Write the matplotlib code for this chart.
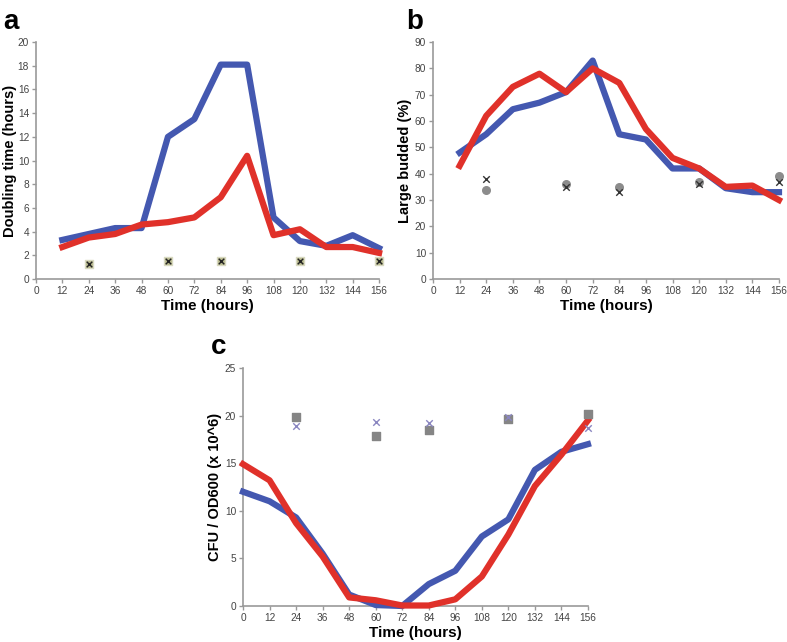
import numpy as np
import matplotlib.pyplot as plt

plt.rcParams['font.family'] = ['Liberation Sans', 'DejaVu Sans']

# Panel a - doubling time
hours_a = [12, 24, 36, 48, 60, 72, 84, 96, 108, 120, 132, 144, 156]
dbl_blue = [3.3, 3.8, 4.3, 4.3, 12.0, 13.5, 18.1, 18.1, 5.2, 3.2, 2.8, 3.7, 2.6]
dbl_red = [2.7, 3.5, 3.8, 4.6, 4.8, 5.2, 6.9, 10.4, 3.7, 4.2, 2.7, 2.7, 2.2]
ctrl_hours = [24, 60, 84, 120, 156]
dbl_ctrl_sq = [1.3, 1.5, 1.5, 1.55, 1.5]
dbl_ctrl_x = [1.3, 1.5, 1.5, 1.55, 1.5]

# Panel b - large budded
bud_blue = [48, 55, 64.5, 67, 71, 83, 55, 53, 42, 42, 34.5, 33, 33]
bud_red = [43, 62, 73, 78, 71, 80, 74.5, 57, 46, 42, 35, 35.5, 30]
bud_ctrl_o = [34, 36, 35, 37, 39]
bud_ctrl_x = [38, 35, 33, 36, 37]

# Panel c - CFU / OD600
hours_c = [0, 12, 24, 36, 48, 60, 72, 84, 96, 108, 120, 132, 144, 156]
cfu_blue = [12.0, 11.0, 9.3, 5.5, 1.2, 0.1, 0.0, 2.3, 3.7, 7.3, 9.1, 14.3, 16.2, 17.0]
cfu_red = [14.9, 13.2, 8.7, 5.2, 0.9, 0.6, 0.05, 0.05, 0.7, 3.1, 7.5, 12.6, 15.9, 19.5]
cfu_ctrl_sq = [19.8, 17.9, 18.5, 19.6, 20.2]
cfu_ctrl_x = [18.9, 19.3, 19.2, 19.9, 18.7]

xticks = list(range(0, 157, 12))
blue = '#4458b0'
red = '#e0312a'

fig = plt.figure(figsize=(7.87, 6.42), dpi=100)


def style(ax, ymax, ystep, ylabel, ylab_x):
    ax.set_xlim(0, 156)
    ax.set_ylim(0, ymax)
    ax.set_xticks(xticks)
    ax.set_yticks(np.arange(0, ymax + 0.1, ystep))
    for s in ['top', 'right']:
        ax.spines[s].set_visible(False)
    for s in ['left', 'bottom']:
        ax.spines[s].set_color('#999999')
        ax.spines[s].set_linewidth(1.2)
    ax.tick_params(labelsize=7.3, colors='#999999', labelcolor='#444444',
                   length=3, width=1, pad=2)
    ax.set_xlabel('Time (hours)', fontsize=11, fontweight='bold', labelpad=2)
    ax.set_ylabel(ylabel, fontsize=10.5, fontweight='bold',
                  va='center', ha='center')
    ax.yaxis.set_label_coords(ylab_x, 0.5)


ax1 = fig.add_axes([0.0457, 0.5654, 0.436, 0.369])
ax1.plot(hours_a, dbl_blue, color=blue, lw=4.5, clip_on=False, zorder=3)
ax1.plot(hours_a, dbl_red, color=red, lw=4.5, clip_on=False, zorder=4)
ax1.scatter(ctrl_hours, dbl_ctrl_sq, marker='s', s=30, color='#b4b68a',
            edgecolors='#d8d9c0', zorder=5, clip_on=False)
ax1.scatter(ctrl_hours, dbl_ctrl_x, marker='x', s=16, color='#222222',
            linewidths=1, zorder=6, clip_on=False)
style(ax1, 20, 2, 'Doubling time (hours)', -0.076)
fig.text(0.004, 0.955, 'a', fontsize=20, fontweight='bold')

ax2 = fig.add_axes([0.5502, 0.5654, 0.4396, 0.369])
ax2.plot(hours_a, bud_blue, color=blue, lw=4.5, clip_on=False, zorder=3)
ax2.plot(hours_a, bud_red, color=red, lw=4.5, clip_on=False, zorder=4)
ax2.scatter(ctrl_hours, bud_ctrl_o, marker='o', s=30, color='#8c8c8c',
            zorder=5, clip_on=False)
ax2.scatter(ctrl_hours, bud_ctrl_x, marker='x', s=22, color='#333333',
            linewidths=1, zorder=6, clip_on=False)
style(ax2, 90, 10, 'Large budded (%)', -0.08)
fig.text(0.516, 0.955, 'b', fontsize=20, fontweight='bold')

ax3 = fig.add_axes([0.3088, 0.0561, 0.4383, 0.3707])
ax3.plot(hours_c, cfu_blue, color=blue, lw=4.5, clip_on=False, zorder=3)
ax3.plot(hours_c, cfu_red, color=red, lw=4.5, clip_on=False, zorder=4)
ax3.scatter(ctrl_hours, cfu_ctrl_sq, marker='s', s=34, color='#858585',
            zorder=5, clip_on=False)
ax3.scatter(ctrl_hours, cfu_ctrl_x, marker='x', s=22, color='#8a86c0',
            linewidths=1, zorder=6, clip_on=False)
style(ax3, 25, 5, 'CFU / OD600 (x 10^6)', -0.081)
fig.text(0.268, 0.448, 'c', fontsize=20, fontweight='bold')

fig.savefig('out.png', dpi=100)
